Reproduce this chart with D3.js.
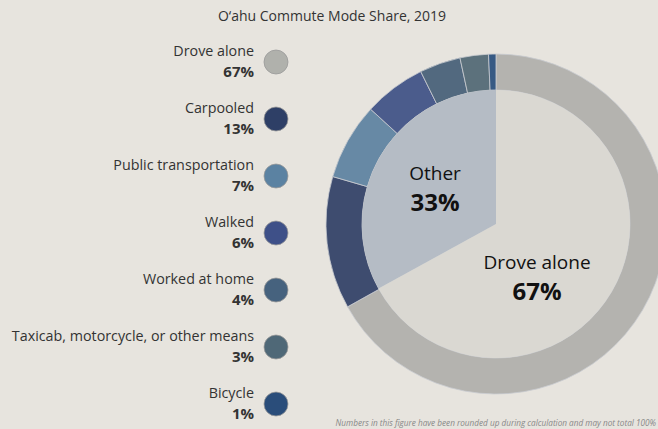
<!DOCTYPE html>
<html>
<head>
<meta charset="utf-8">
<script src="https://cdn.jsdelivr.net/npm/d3@7"></script>
<style>
  body { margin: 0; background: #e7e4de; }
  #cntr { width: 658px; height: 429px; overflow: hidden; }
  text { font-family: "Open Sans", sans-serif; }
</style>
</head>
<body>
<div id="cntr"></div>
<script>
const width = 658;
const height = 429;

// outer ring: share of each mode (percent)
const modes = ["Drove alone", "Carpooled", "Public transportation", "Walked",
    "Worked at home", "Taxicab, motorcycle, or other means", "Bicycle"];
const modeShares = [66.9, 12.6, 7.3, 5.9, 3.9, 2.7, 0.7];
const modeLabels = ["67%", "13%", "7%", "6%", "4%", "3%", "1%"];
const modeColors = ["#b0b1ac", "#2e3f66", "#5b82a2", "#3e5088", "#46627e", "#4f6877", "#2a4d7a"];
const ringColors = ["#b4b3af", "#3e4c6f", "#6789a5", "#4b5c8c", "#52697f", "#5c717c", "#375a84"];

// inner pie: drove alone vs other
const groups = ["Drove alone", "Other"];
const groupShares = [67, 33];
const groupLabels = ["67%", "33%"];
const groupColors = ["#dad8d2", "#b5bcc5"];

const svg = d3.select("#cntr")
    .append("svg")
    .attr("width", width)
    .attr("height", height);

svg.append("text")
    .attr("x", 332)
    .attr("y", 21)
    .style("text-anchor", "middle")
    .style("font-size", "14px")
    .style("fill", "#333")
    .text("O\u2018ahu Commute Mode Share, 2019");

// donut
const cx = 496, cy = 224;
const rInner = 134, rOuter = 170;

const chart = svg.append("g")
    .attr("transform", "translate(" + cx + "," + cy + ")");

const ringPie = d3.pie().sort(null).value(d => d.v);
const ringData = ringPie(modes.map((m, i) => ({ m: m, v: modeShares[i], c: ringColors[i] })));

chart.selectAll("path.ring")
    .data(ringData)
    .join("path")
        .attr("class", "ring")
        .attr("d", d3.arc().innerRadius(rInner).outerRadius(rOuter))
        .style("fill", d => d.data.c)
        .style("stroke", "#c9ccd0")
        .style("stroke-width", 0.8);

const innerPie = d3.pie().sort(null).value(d => d.v);
const innerData = innerPie(groups.map((g, i) => ({ g: g, v: groupShares[i], c: groupColors[i], l: groupLabels[i] })));
const innerArc = d3.arc().innerRadius(0).outerRadius(rInner);

chart.selectAll("path.inner")
    .data(innerData)
    .join("path")
        .attr("class", "inner")
        .attr("d", innerArc)
        .style("fill", d => d.data.c);

// labels inside the pie
const labelPos = [[41, 45], [-61, -44]];
const lbl = chart.selectAll("g.lbl")
    .data(innerData)
    .join("g")
        .attr("class", "lbl")
        .attr("transform", (d, i) => "translate(" + labelPos[i][0] + "," + labelPos[i][1] + ")");

lbl.append("text")
    .style("text-anchor", "middle")
    .style("font-size", "19px")
    .style("fill", "#111")
    .text(d => d.data.g);

lbl.append("text")
    .attr("y", 31)
    .style("text-anchor", "middle")
    .style("font-size", "24px")
    .style("font-weight", "bold")
    .style("fill", "#111")
    .text(d => d.data.l);

// legend
const y = d3.scalePoint().domain(modes).range([62, 404]);

const leg = svg.selectAll("g.leg")
    .data(modes)
    .join("g")
        .attr("class", "leg")
        .attr("transform", d => "translate(0," + y(d) + ")");

leg.append("circle")
    .attr("cx", 276)
    .attr("r", 12)
    .style("fill", (d, i) => modeColors[i])
    .style("stroke", "#999")
    .style("stroke-width", 0.8);

leg.append("text")
    .attr("x", 254)
    .attr("y", -6)
    .style("text-anchor", "end")
    .style("font-size", "14.3px")
    .style("fill", "#333")
    .text(d => d);

leg.append("text")
    .attr("x", 254)
    .attr("y", 15)
    .style("text-anchor", "end")
    .style("font-size", "15px")
    .style("font-weight", "bold")
    .style("fill", "#333")
    .text((d, i) => modeLabels[i]);

svg.append("text")
    .attr("x", 656)
    .attr("y", 426)
    .style("text-anchor", "end")
    .style("font-size", "8.2px")
    .style("font-style", "italic")
    .style("fill", "#888")
    .text("Numbers in this figure have been rounded up during calculation and may not total 100%");
</script>
</body>
</html>
